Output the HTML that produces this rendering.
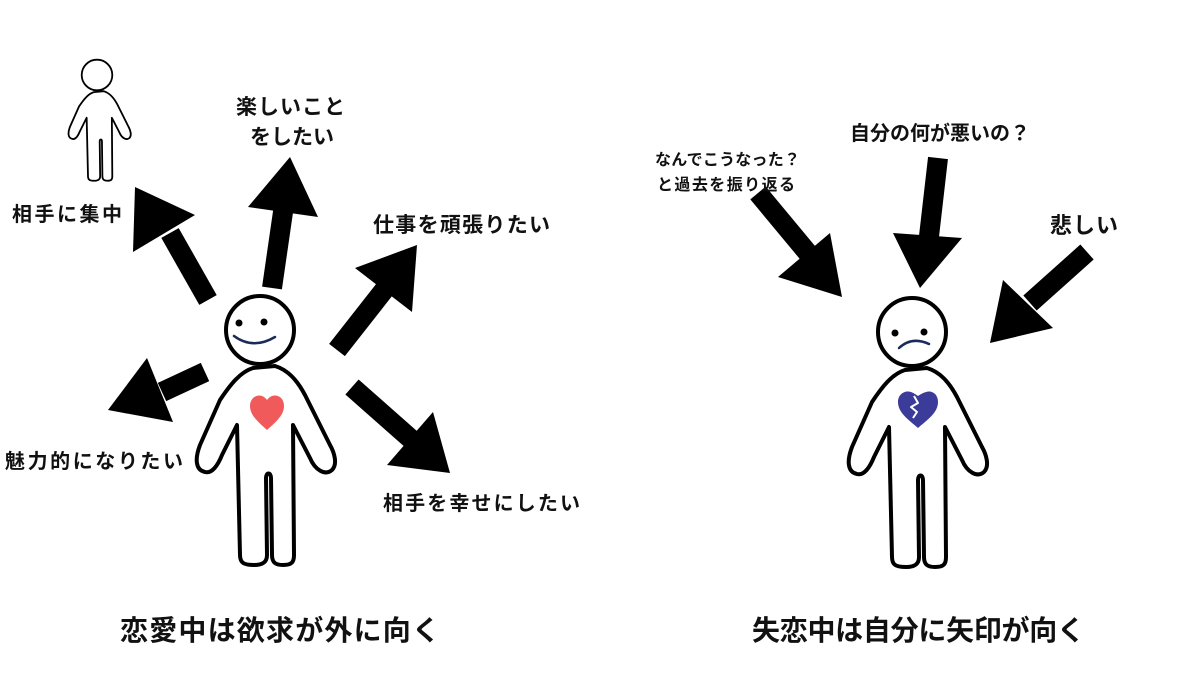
<!DOCTYPE html>
<html><head><meta charset="utf-8"><style>
html,body{margin:0;padding:0;background:#fff;}
svg{display:block;}
text{font-family:"Liberation Sans","Noto Sans CJK JP",sans-serif;font-weight:bold;fill:#111;}
</style></head><body>
<svg width="1200" height="675" viewBox="0 0 1200 675" xmlns="http://www.w3.org/2000/svg">
<defs>
<g id="fig">
<path d="M253,368 C240,372 230,385 220,400 L200,445 C195,458 195,470 205,472 C212,474 218,465 222,455 L237,425 L240,555 C240,563 244,565 254,565 C263,565 267,562 267,555 L266,478 C266,472 271,472 271,478 L272,555 C272,563 276,565 283,565 C292,565 294,562 294,555 L293,425 L310,458 C315,470 325,476 332,470 C338,464 334,452 330,445 L305,395 C297,380 288,370 275,366 Z" fill="#fff" stroke="#000" stroke-width="4" stroke-linejoin="round"/>
<circle cx="260" cy="330" r="34" fill="#fff" stroke="#000" stroke-width="4"/>
</g>
</defs>

<!-- small figure -->
<g transform="translate(-20,-73.5) scale(0.45)"><use href="#fig"/></g>

<!-- left figure -->
<use href="#fig"/>
<circle cx="239" cy="323" r="3.5" fill="#000"/>
<circle cx="264" cy="322" r="3.5" fill="#000"/>
<path d="M234,336 Q253,350 275,337" fill="none" stroke="#1a2a5a" stroke-width="2.5" stroke-linecap="round"/>
<path d="M267,430 C258,422 250,415 250,406 C250,398 257,394 262,396 C265,397 267,400 267,400 C267,400 269,397 272,396 C278,394 284,398 284,406 C284,415 276,422 267,430 Z" fill="#f05a5a"/>

<!-- left arrows -->
<g fill="#000" stroke="#000">
<line x1="208" y1="300" x2="170" y2="233" stroke-width="20"/>
<polygon points="135,187 195,215 133,252" stroke="none"/>
<line x1="272" y1="288" x2="284" y2="205" stroke-width="20"/>
<polygon points="290,157 248,207 318,217" stroke="none"/>
<line x1="337" y1="350" x2="388" y2="285" stroke-width="20"/>
<polygon points="417,245 355,268 412,312" stroke="none"/>
<line x1="205" y1="372" x2="162" y2="392" stroke-width="20"/>
<polygon points="108,410 147,358 173,422" stroke="none"/>
<line x1="352" y1="387" x2="412" y2="440" stroke-width="20"/>
<polygon points="450,473 433,412 387,465" stroke="none"/>
</g>

<!-- right figure -->
<g transform="translate(652,2)"><use href="#fig"/></g>
<circle cx="895" cy="333" r="3.5" fill="#000"/>
<circle cx="924" cy="332" r="3.5" fill="#000"/>
<path d="M899,348 Q912,336 929,344" fill="none" stroke="#1a2a5a" stroke-width="2.5" stroke-linecap="round"/>
<path d="M918,428 C909,420 898,413 898,402 C898,394 905,390 911,392 C914,393 918,396 918,396 C918,396 922,393 926,392 C932,390 938,394 938,402 C938,413 927,420 918,428 Z" fill="#3b3b9a"/>
<path d="M914,396 L918,403 L911,407 L917,412 L913,418" fill="none" stroke="#fff" stroke-width="2" stroke-linejoin="round"/>

<!-- right arrows -->
<g fill="#000" stroke="#000">
<line x1="758" y1="193" x2="812" y2="258" stroke-width="20"/>
<polygon points="842,297 830,233 778,277" stroke="none"/>
<line x1="938" y1="158" x2="928" y2="245" stroke-width="20"/>
<polygon points="920,288 893,233 962,238" stroke="none"/>
<line x1="1087" y1="252" x2="1030" y2="303" stroke-width="20"/>
<polygon points="990,343 1003,280 1053,328" stroke="none"/>
</g>

<!-- labels -->
<text x="12" y="221" font-size="20" textLength="110">相手に集中</text>
<text x="236" y="114" font-size="21" textLength="109">楽しいこと</text>
<text x="250" y="144" font-size="21" textLength="84">をしたい</text>
<text x="373" y="232" font-size="21" textLength="177">仕事を頑張りたい</text>
<text x="5" y="468" font-size="20" textLength="178">魅力的になりたい</text>
<text x="383" y="510" font-size="20" textLength="197">相手を幸せにしたい</text>
<text x="655" y="165" font-size="16" textLength="145">なんでこうなった？</text>
<text x="657" y="190" font-size="16" textLength="138">と過去を振り返る</text>
<text x="850" y="140" font-size="20" textLength="180">自分の何が悪いの？</text>
<text x="1050" y="233" font-size="22" textLength="68">悲しい</text>
<text x="120" y="640" font-size="28" textLength="320">恋愛中は欲求が外に向く</text>
<text x="752" y="640" font-size="28" textLength="333">失恋中は自分に矢印が向く</text>
</svg>
</body></html>
